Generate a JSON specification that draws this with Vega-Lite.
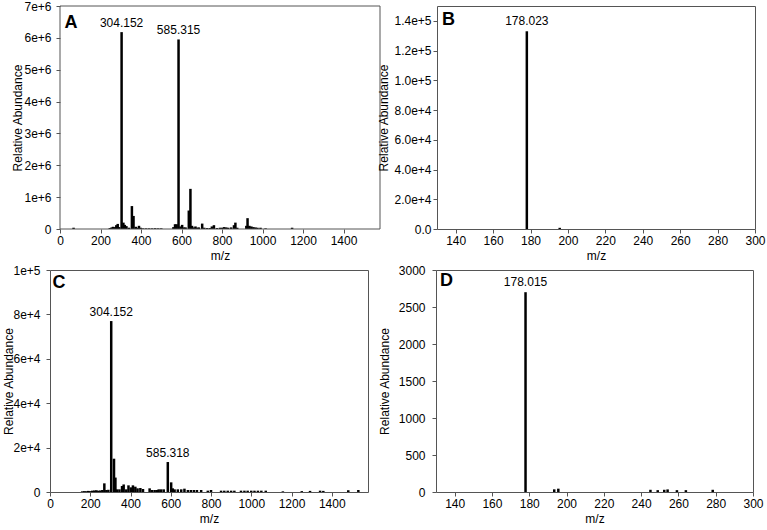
{
  "$schema": "https://vega.github.io/schema/vega-lite/v6.json",
  "padding": 0,
  "autosize": {"type": "pad"},
  "background": "white",
  "config": {
    "font": "Liberation Sans",
    "view": {"stroke": "#555555", "strokeWidth": 1},
    "axis": {
      "grid": false, "domain": false, "tickColor": "#555555", "tickSize": 4, "tickCount": 20,
      "labelOverlap": false, "labelFlush": false, "labelBound": false,
      "labelFont": "Liberation Sans", "labelFontSize": 12, "labelColor": "#000000",
      "titleFont": "Liberation Sans", "titleFontSize": 12, "titleFontWeight": "normal", "titleColor": "#000000"
    },
    "axisX": {"labelPadding": 2, "titlePadding": 4, "labelAngle": 0, "format": "d"},
    "text": {"font": "Liberation Sans"}
  },
  "datasets": {
    "A": [
      {"mz": 67, "value": 40000}, {"mz": 246, "value": 30000}, {"mz": 255, "value": 50000}, {"mz": 262, "value": 70000},
      {"mz": 270, "value": 60000}, {"mz": 278, "value": 120000}, {"mz": 285, "value": 160000}, {"mz": 292, "value": 60000},
      {"mz": 304.152, "value": 6180000, "label": "304.152"}, {"mz": 313, "value": 200000}, {"mz": 320, "value": 130000},
      {"mz": 328, "value": 90000}, {"mz": 340, "value": 40000}, {"mz": 355, "value": 720000}, {"mz": 363, "value": 410000},
      {"mz": 374, "value": 70000}, {"mz": 382, "value": 40000}, {"mz": 390, "value": 100000}, {"mz": 398, "value": 40000},
      {"mz": 410, "value": 20000}, {"mz": 425, "value": 20000}, {"mz": 440, "value": 20000}, {"mz": 455, "value": 20000},
      {"mz": 470, "value": 25000}, {"mz": 485, "value": 20000}, {"mz": 500, "value": 20000}, {"mz": 560, "value": 60000},
      {"mz": 568, "value": 150000}, {"mz": 576, "value": 150000}, {"mz": 585.315, "value": 5950000, "label": "585.315"},
      {"mz": 595, "value": 80000}, {"mz": 603, "value": 130000}, {"mz": 612, "value": 50000}, {"mz": 620, "value": 50000},
      {"mz": 636, "value": 580000}, {"mz": 644, "value": 1260000}, {"mz": 652, "value": 100000}, {"mz": 660, "value": 50000},
      {"mz": 669, "value": 80000}, {"mz": 678, "value": 40000}, {"mz": 685, "value": 50000}, {"mz": 702, "value": 170000},
      {"mz": 712, "value": 40000}, {"mz": 726, "value": 30000}, {"mz": 740, "value": 30000}, {"mz": 750, "value": 80000},
      {"mz": 760, "value": 120000}, {"mz": 775, "value": 30000}, {"mz": 790, "value": 40000}, {"mz": 800, "value": 40000},
      {"mz": 810, "value": 60000}, {"mz": 820, "value": 50000}, {"mz": 830, "value": 40000}, {"mz": 845, "value": 50000},
      {"mz": 859, "value": 120000}, {"mz": 866, "value": 200000}, {"mz": 875, "value": 40000}, {"mz": 920, "value": 100000},
      {"mz": 926, "value": 340000}, {"mz": 935, "value": 100000}, {"mz": 945, "value": 80000}, {"mz": 955, "value": 60000},
      {"mz": 965, "value": 50000}, {"mz": 975, "value": 40000}, {"mz": 990, "value": 40000}, {"mz": 1015, "value": 20000},
      {"mz": 1146, "value": 40000}
    ],
    "B": [
      {"mz": 178.023, "value": 133000, "label": "178.023"}, {"mz": 195.6, "value": 800}
    ],
    "C": [
      {"mz": 160, "value": 300}, {"mz": 170, "value": 400}, {"mz": 180, "value": 350}, {"mz": 190, "value": 500},
      {"mz": 200, "value": 400}, {"mz": 210, "value": 600}, {"mz": 220, "value": 700}, {"mz": 230, "value": 800},
      {"mz": 240, "value": 600}, {"mz": 250, "value": 700}, {"mz": 260, "value": 900}, {"mz": 270, "value": 3900},
      {"mz": 280, "value": 900}, {"mz": 290, "value": 1000}, {"mz": 304.152, "value": 77000, "label": "304.152"},
      {"mz": 318, "value": 15000}, {"mz": 325, "value": 6500}, {"mz": 333, "value": 1200}, {"mz": 345, "value": 1200},
      {"mz": 358, "value": 2700}, {"mz": 366, "value": 3400}, {"mz": 379, "value": 1200}, {"mz": 390, "value": 3000},
      {"mz": 402, "value": 2100}, {"mz": 412, "value": 3000}, {"mz": 424, "value": 2400}, {"mz": 435, "value": 1650},
      {"mz": 449, "value": 1800}, {"mz": 462, "value": 1350}, {"mz": 495, "value": 1650}, {"mz": 507, "value": 900},
      {"mz": 520, "value": 900}, {"mz": 532, "value": 900}, {"mz": 540, "value": 1200}, {"mz": 552, "value": 1200},
      {"mz": 565, "value": 1200}, {"mz": 585.318, "value": 13500, "label": "585.318"}, {"mz": 602, "value": 4350},
      {"mz": 610, "value": 1650}, {"mz": 619, "value": 1200}, {"mz": 635, "value": 1200}, {"mz": 652, "value": 1200},
      {"mz": 668, "value": 1500}, {"mz": 685, "value": 900}, {"mz": 700, "value": 900}, {"mz": 715, "value": 900},
      {"mz": 730, "value": 900}, {"mz": 751, "value": 900}, {"mz": 784, "value": 600}, {"mz": 800, "value": 900},
      {"mz": 850, "value": 600}, {"mz": 866, "value": 600}, {"mz": 883, "value": 600}, {"mz": 900, "value": 600},
      {"mz": 916, "value": 600}, {"mz": 949, "value": 600}, {"mz": 966, "value": 600}, {"mz": 982, "value": 600},
      {"mz": 1000, "value": 600}, {"mz": 1016, "value": 600}, {"mz": 1033, "value": 600}, {"mz": 1050, "value": 600},
      {"mz": 1072, "value": 600}, {"mz": 1157, "value": 300}, {"mz": 1251, "value": 400}, {"mz": 1292, "value": 500},
      {"mz": 1342, "value": 600}, {"mz": 1358, "value": 500}, {"mz": 1482, "value": 800}, {"mz": 1532, "value": 900}
    ],
    "D": [
      {"mz": 178.015, "value": 2700, "label": "178.015"}, {"mz": 193.4, "value": 36}, {"mz": 195.6, "value": 45},
      {"mz": 245, "value": 30}, {"mz": 248.9, "value": 25}, {"mz": 252.4, "value": 30}, {"mz": 254.2, "value": 35},
      {"mz": 259.2, "value": 25}, {"mz": 264, "value": 25}, {"mz": 278.4, "value": 30}
    ]
  },
  "spacing": 1,
  "vconcat": [
    {
      "bounds": "flush",
      "spacing": 57,
      "hconcat": [
        {
          "width": 330, "height": 223,
          "view": {"stroke": null},
          "data": {"name": "A"},
          "layer": [
            {
              "mark": {"type": "rule", "color": "#000000", "strokeWidth": 2.5},
              "encoding": {
                "x": {"field": "mz", "type": "quantitative", "scale": {"domain": [0, 1580], "range": [10, 330], "nice": false},
                  "axis": {"title": "m/z", "tickCount": 20, "values": [0, 200, 400, 600, 800, 1000, 1200, 1400], "titleX": 170}},
                "y": {"field": "value", "type": "quantitative", "scale": {"domain": [0, 7000000], "nice": false},
                  "axis": {"title": "Relative Abundance", "tickCount": 20, "offset": -10, "values": [0, 1000000, 2000000, 3000000, 4000000, 5000000, 6000000, 7000000],
                    "labelExpr": "datum.value == 0 ? '0' : format(datum.value, '.0e')", "labelPadding": 5,
                    "minExtent": 59, "maxExtent": 59, "titleX": -39, "titleAngle": 270, "titleBaseline": "alphabetic", "titleAlign": "center"}},
                "y2": {"datum": 0}
              }
            },
            {
              "data": {"values": [{"frame": "A"}]},
              "mark": {"type": "rect", "fill": "transparent", "stroke": "#555555", "strokeWidth": 1},
              "encoding": {
                "x": {"datum": 0, "type": "quantitative"}, "x2": {"datum": 1580},
                "y": {"datum": 0, "type": "quantitative"}, "y2": {"datum": 7000000}
              }
            },
            {
              "transform": [{"filter": "datum.label != null"}],
              "mark": {"type": "text", "fontSize": 12, "baseline": "alphabetic", "dy": -5, "color": "#000000"},
              "encoding": {"x": {"field": "mz", "type": "quantitative"}, "y": {"field": "value", "type": "quantitative"}, "text": {"field": "label"}}
            },
            {
              "data": {"values": [{"panel": "A"}]},
              "mark": {"type": "text", "fontSize": 18, "fontWeight": "bold", "align": "left", "baseline": "alphabetic", "color": "#000000"},
              "encoding": {"x": {"datum": 22}, "y": {"datum": 6310000}, "text": {"field": "panel"}}
            }
          ]
        },
        {
          "width": 318, "height": 223,
          "data": {"name": "B"},
          "layer": [
            {
              "mark": {"type": "rule", "color": "#000000", "strokeWidth": 2.5},
              "encoding": {
                "x": {"field": "mz", "type": "quantitative", "scale": {"domain": [130, 300], "nice": false, "zero": false},
                  "axis": {"title": "m/z", "tickCount": 20, "values": [140, 160, 180, 200, 220, 240, 260, 280, 300]}},
                "y": {"field": "value", "type": "quantitative", "scale": {"domain": [0, 150000], "nice": false},
                  "axis": {"title": "Relative Abundance", "tickCount": 20, "values": [0, 20000, 40000, 60000, 80000, 100000, 120000, 140000],
                    "labelExpr": "datum.value == 0 ? '0.0' : format(datum.value, '.1e')", "labelPadding": 2,
                    "titleX": -50, "titleAngle": 270, "titleBaseline": "alphabetic", "titleAlign": "center"}},
                "y2": {"datum": 0}
              }
            },
            {
              "transform": [{"filter": "datum.label != null"}],
              "mark": {"type": "text", "fontSize": 12, "baseline": "alphabetic", "dy": -6, "color": "#000000"},
              "encoding": {"x": {"field": "mz", "type": "quantitative"}, "y": {"field": "value", "type": "quantitative"}, "text": {"field": "label"}}
            },
            {
              "data": {"values": [{"panel": "B"}]},
              "mark": {"type": "text", "fontSize": 18, "fontWeight": "bold", "align": "left", "baseline": "alphabetic", "color": "#000000"},
              "encoding": {"x": {"datum": 132.7}, "y": {"datum": 137200}, "text": {"field": "panel"}}
            }
          ]
        }
      ]
    },
    {
      "bounds": "flush",
      "spacing": 68,
      "hconcat": [
        {
          "width": 318, "height": 222,
          "data": {"name": "C"},
          "layer": [
            {
              "mark": {"type": "rule", "color": "#000000", "strokeWidth": 2.5},
              "encoding": {
                "x": {"field": "mz", "type": "quantitative", "scale": {"domain": [0, 1580], "nice": false},
                  "axis": {"title": "m/z", "tickCount": 20, "values": [0, 200, 400, 600, 800, 1000, 1200, 1400]}},
                "y": {"field": "value", "type": "quantitative", "scale": {"domain": [0, 100000], "nice": false},
                  "axis": {"title": "Relative Abundance", "tickCount": 20, "values": [0, 20000, 40000, 60000, 80000, 100000],
                    "labelExpr": "datum.value == 0 ? '0' : format(datum.value, '.0e')", "labelPadding": 6,
                    "minExtent": 49, "maxExtent": 49, "titleX": -38, "titleAngle": 270, "titleBaseline": "alphabetic", "titleAlign": "center"}},
                "y2": {"datum": 0}
              }
            },
            {
              "transform": [{"filter": "datum.label != null"}],
              "mark": {"type": "text", "fontSize": 12, "baseline": "alphabetic", "dy": -5, "color": "#000000"},
              "encoding": {"x": {"field": "mz", "type": "quantitative"}, "y": {"field": "value", "type": "quantitative"}, "text": {"field": "label"}}
            },
            {
              "data": {"values": [{"panel": "C"}]},
              "mark": {"type": "text", "fontSize": 18, "fontWeight": "bold", "align": "left", "baseline": "alphabetic", "color": "#000000"},
              "encoding": {"x": {"datum": 12}, "y": {"datum": 91700}, "text": {"field": "panel"}}
            }
          ]
        },
        {
          "width": 317, "height": 222,
          "data": {"name": "D"},
          "layer": [
            {
              "mark": {"type": "rule", "color": "#000000", "strokeWidth": 2.5},
              "encoding": {
                "x": {"field": "mz", "type": "quantitative", "scale": {"domain": [130, 300], "nice": false, "zero": false},
                  "axis": {"title": "m/z", "tickCount": 20, "values": [140, 160, 180, 200, 220, 240, 260, 280, 300]}},
                "y": {"field": "value", "type": "quantitative", "scale": {"domain": [0, 3000], "nice": false},
                  "axis": {"title": "Relative Abundance", "tickCount": 20, "values": [0, 500, 1000, 1500, 2000, 2500, 3000], "format": "d", "labelPadding": 7,
                    "titleX": -48, "titleAngle": 270, "titleBaseline": "alphabetic", "titleAlign": "center"}},
                "y2": {"datum": 0}
              }
            },
            {
              "transform": [{"filter": "datum.label != null"}],
              "mark": {"type": "text", "fontSize": 12, "baseline": "alphabetic", "dy": -6, "color": "#000000"},
              "encoding": {"x": {"field": "mz", "type": "quantitative"}, "y": {"field": "value", "type": "quantitative"}, "text": {"field": "label"}}
            },
            {
              "data": {"values": [{"panel": "D"}]},
              "mark": {"type": "text", "fontSize": 18, "fontWeight": "bold", "align": "left", "baseline": "alphabetic", "color": "#000000"},
              "encoding": {"x": {"datum": 132.1}, "y": {"datum": 2784}, "text": {"field": "panel"}}
            }
          ]
        }
      ]
    }
  ]
}
